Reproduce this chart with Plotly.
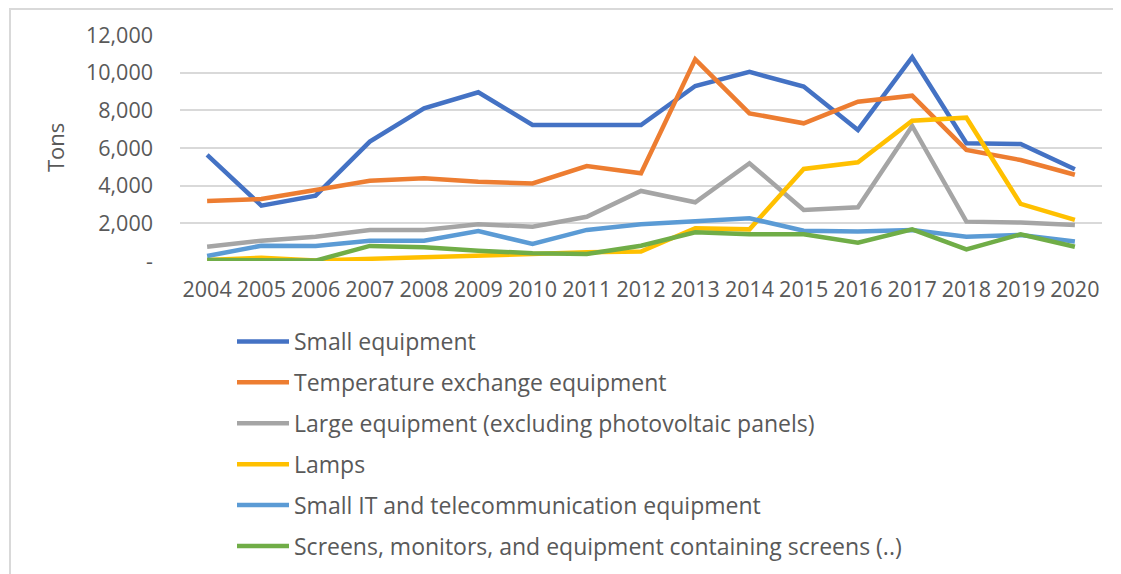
import plotly.graph_objects as go

years = [str(y) for y in range(2004, 2021)]

small_equipment = [5630, 2940, 3470, 6340, 8110, 8960, 7220, 7220, 7220, 9290, 10040, 9260, 6960, 10820, 6250, 6210, 4870]
temperature_exchange = [3190, 3290, 3770, 4260, 4390, 4210, 4120, 5045, 4660, 10710, 7840, 7310, 8460, 8780, 5900, 5360, 4580]
large_equipment = [760, 1080, 1290, 1650, 1650, 1950, 1820, 2350, 3720, 3120, 5190, 2710, 2850, 7170, 2090, 2040, 1910]
lamps = [50, 175, 30, 120, 180, 320, 410, 460, 500, 1740, 1680, 4890, 5240, 7450, 7610, 3030, 2180]
small_it = [265, 810, 800, 1080, 1080, 1590, 900, 1650, 1950, 2090, 2270, 1610, 1560, 1650, 1290, 1380, 1030]
screens = [50, 50, 20, 800, 730, 550, 410, 370, 810, 1520, 1420, 1420, 970, 1680, 620, 1420, 760]

series_names = [
    "Small equipment",
    "Temperature exchange equipment",
    "Large equipment (excluding photovoltaic panels)",
    "Lamps",
    "Small IT and telecommunication equipment",
    "Screens, monitors, and equipment containing screens (..)",
]
series_values = [small_equipment, temperature_exchange, large_equipment, lamps, small_it, screens]
colors = ["#4472C4", "#ED7D31", "#A5A5A5", "#FFC000", "#5B9BD5", "#70AD47"]

y_tickvals = [0, 2000, 4000, 6000, 8000, 10000, 12000]
y_ticktext = ["-", "2,000", "4,000", "6,000", "8,000", "10,000", "12,000"]

FONT = "Open Sans"
GREY = "#595959"

fig = go.Figure()
for i, (name, vals, col) in enumerate(zip(series_names, series_values, colors)):
    fig.add_trace(go.Scatter(
        x=years, y=vals, name=name, mode="lines",
        line=dict(color=col, width=4.5),
        legendgroup=str(i),
    ))

W, H = 1113, 566
L, R, T, B = 172, 19, 27, 313
pw, ph = W - L - R, H - T - B

def px_x(p):
    return (p - L) / pw

def px_y(p):
    return (H - B - p) / ph

fig.update_layout(
    width=W, height=H,
    margin=dict(l=L, r=R, t=T, b=B, autoexpand=False),
    paper_bgcolor="white", plot_bgcolor="white",
    font=dict(family=FONT, color=GREY, size=21),
    showlegend=True,
    legend=dict(
        x=px_x(224), y=px_y(312), xanchor="left", yanchor="top",
        orientation="v", traceorder="grouped", tracegroupgap=8,
        itemwidth=52,
        font=dict(family=FONT, size=23, color=GREY),
        bgcolor="rgba(0,0,0,0)",
    ),
    xaxis=dict(
        type="category", range=[-0.5, 16.5],
        showgrid=False, showline=False, zeroline=False,
        ticks="", ticklabelstandoff=13,
        tickfont=dict(family=FONT, size=21.5, color=GREY),
    ),
    yaxis=dict(
        range=[0, 12000], tickvals=y_tickvals, ticktext=y_ticktext,
        showgrid=True, gridcolor="#D9D9D9", gridwidth=2,
        zeroline=False, showline=False, ticks="",
        ticklabelstandoff=26,
        tickfont=dict(family=FONT, size=21.5, color=GREY),
    ),
    annotations=[dict(
        text="Tons", xref="paper", yref="paper",
        x=px_x(47), y=px_y(140), xanchor="center", yanchor="middle",
        textangle=-90, showarrow=False,
        font=dict(family=FONT, size=22, color=GREY),
    )],
    shapes=[dict(
        type="rect", xref="paper", yref="paper",
        x0=px_x(2), x1=px_x(1130), y0=px_y(590), y1=px_y(1),
        line=dict(color="#D9D9D9", width=2), fillcolor="rgba(0,0,0,0)",
        layer="below",
    )],
)

fig.write_html("out.html")
